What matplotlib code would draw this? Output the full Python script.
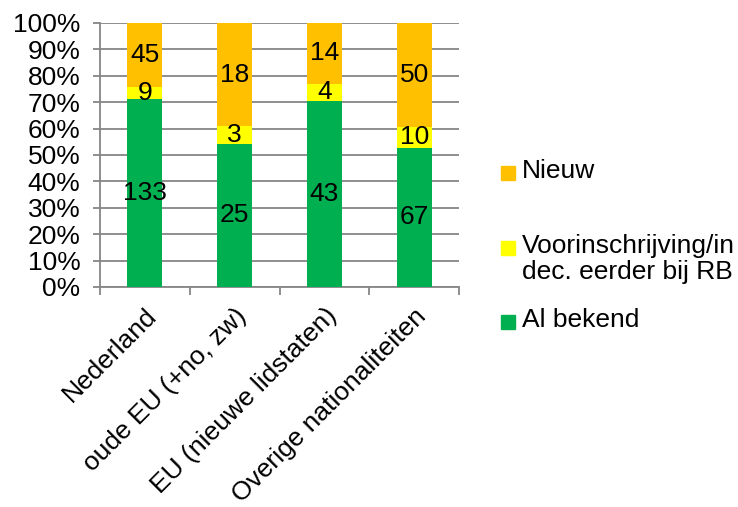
import matplotlib
matplotlib.use("Agg")
import matplotlib.pyplot as plt
from matplotlib.patches import Rectangle
import numpy as np

categories = ["Nederland", "oude EU (+no, zw)", "EU (nieuwe lidstaten)", "Overige nationaliteiten"]
al_bekend = [133, 25, 43, 67]
voorinschrijving = [9, 3, 4, 10]
nieuw = [45, 18, 14, 50]
series_names = ["Al bekend", "Voorinschrijving/in\ndec. eerder bij RB", "Nieuw"]
yticklabels = ["0%", "10%", "20%", "30%", "40%", "50%", "60%", "70%", "80%", "90%", "100%"]

colors = ["#00B050", "#FFFF00", "#FFC000"]
grid_c = "#868686"
plt.rcParams['font.family'] = ['Liberation Sans', 'DejaVu Sans']
FS = 19

fig = plt.figure(figsize=(7.38, 5.07), dpi=100)
W, H = 738, 507
ax = fig.add_axes([100 / W, 1 - 287 / H, (459 - 100) / W, (287 - 23) / H])

data = np.array([al_bekend, voorinschrijving, nieuw], dtype=float)
totals = data.sum(axis=0)
pct = data / totals * 100
x = np.arange(len(categories))
bottom = np.zeros(len(categories))
for i in range(3):
    ax.bar(x, pct[i], 0.39, bottom=bottom, color=colors[i], zorder=3)
    for j in range(len(categories)):
        ax.text(x[j], bottom[j] + pct[i][j] / 2, f"{int(data[i][j])}", ha="center", va="center",
                fontsize=FS, zorder=4)
    bottom += pct[i]

ax.set_xlim(-0.5, 3.5)
ax.set_ylim(0, 100)
ax.set_yticks(np.arange(0, 101, 10))
ax.set_yticklabels(yticklabels, fontsize=FS)
ax.yaxis.grid(True, color=grid_c, linewidth=1.3, zorder=0)
for s in ["top", "right"]:
    ax.spines[s].set_visible(False)
for s in ["left", "bottom"]:
    ax.spines[s].set_color(grid_c)
    ax.spines[s].set_linewidth(1.3)
ax.tick_params(axis="y", length=5, color=grid_c, width=1.3, pad=9)
ax.set_xticks(x)
ax.set_xticklabels(categories, fontsize=FS, rotation=45, ha="right", va="top", rotation_mode="anchor")
ax.tick_params(axis="x", which="major", length=0, pad=12)
ax.set_xticks(np.arange(-0.5, 3.6, 1), minor=True)
ax.tick_params(axis="x", which="minor", length=6, color=grid_c, width=1.3)

# legend (manual, Excel-like placement)
leg_items = [(2, 173), (1, 248), (0, 322)]
for idx, yc in leg_items:
    fig.patches.append(Rectangle((501 / W, 1 - (yc + 7) / H), 14 / W, 14 / H,
                                 transform=fig.transFigure, color=colors[idx]))
    fig.text(522 / W, 1 - (yc - 14) / H, series_names[idx], fontsize=FS, ha="left", va="top",
             linespacing=1.12)

fig.savefig("out.png", dpi=100)
